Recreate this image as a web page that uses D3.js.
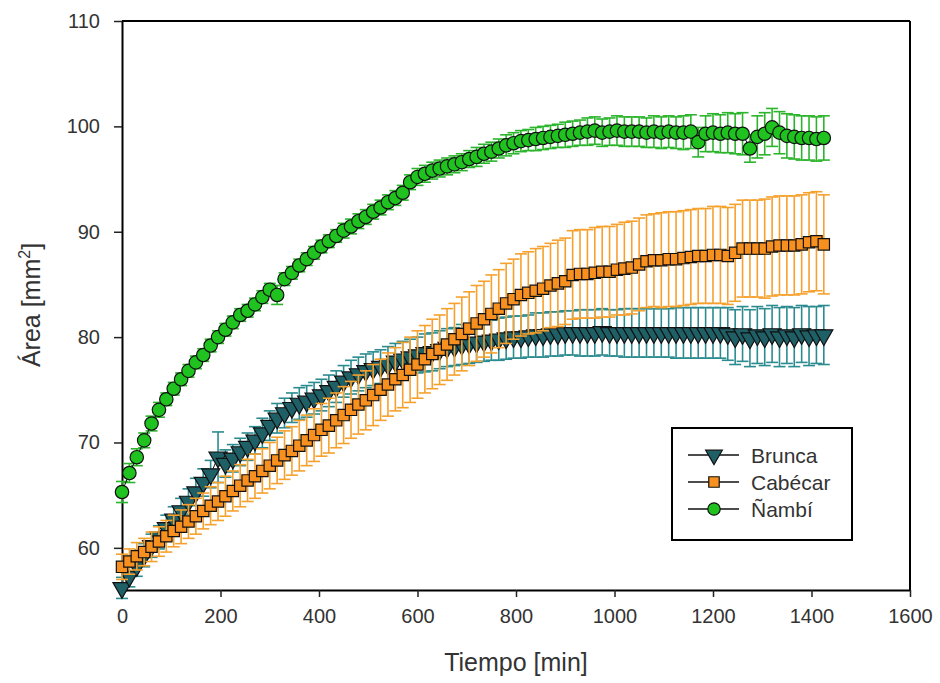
<!DOCTYPE html>
<html>
<head>
<meta charset="utf-8">
<script src="https://cdn.jsdelivr.net/npm/d3@7"></script>
<style>
  body { margin: 0; background: #fff; }
  svg { display: block; font-family: "Liberation Sans", Arial, sans-serif; }
</style>
</head>
<body>
<div id="canvas"></div>
<script>
// time points [min]
var tiempo = [0, 15, 30, 45, 60, 75, 90, 105, 120, 135, 150, 165, 180, 195, 210, 225, 240, 255, 270, 285,
  300, 315, 330, 345, 360, 375, 390, 405, 420, 435, 450, 465, 480, 495, 510, 525, 540, 555, 570, 585,
  600, 615, 630, 645, 660, 675, 690, 705, 720, 735, 750, 765, 780, 795, 810, 825, 840, 855, 870, 885,
  900, 915, 930, 945, 960, 975, 990, 1005, 1020, 1035, 1050, 1065, 1080, 1095, 1110, 1125, 1140, 1155, 1170, 1185,
  1200, 1215, 1230, 1245, 1260, 1275, 1290, 1305, 1320, 1335, 1350, 1365, 1380, 1395, 1410, 1425];

var brunca = [56.2, 57.3, 58.3, 59.3, 60.2, 61.0, 61.9, 62.7, 63.5, 64.4, 65.3, 66.2, 67.0, 68.6, 68.0, 68.5, 69.1, 69.6, 70.2, 70.9,
  71.6, 72.3, 72.8, 73.3, 73.7, 73.9, 74.2, 74.5, 74.9, 75.3, 75.8, 76.2, 76.5, 76.8, 77.0, 77.2, 77.4, 77.7, 77.9, 78.1,
  78.3, 78.5, 78.6, 78.8, 79.0, 79.1, 79.3, 79.4, 79.5, 79.6, 79.7, 79.8, 79.9, 80.0, 80.0, 80.1, 80.2, 80.2, 80.3, 80.3,
  80.4, 80.4, 80.4, 80.4, 80.4, 80.5, 80.4, 80.4, 80.4, 80.4, 80.4, 80.4, 80.4, 80.4, 80.4, 80.4, 80.4, 80.4, 80.4, 80.4,
  80.4, 80.4, 80.3, 80.0, 80.3, 79.9, 80.2, 80.0, 80.3, 80.0, 80.2, 80.0, 80.3, 80.1, 80.2, 80.2];
var bruncaErr = [1.0, 1.0, 1.0, 1.1, 1.1, 1.1, 1.2, 1.2, 1.2, 1.2, 1.3, 1.3, 1.3, 2.4, 1.3, 1.3, 1.3, 1.3, 1.3, 1.4,
  1.4, 1.4, 1.4, 1.4, 1.5, 1.5, 1.5, 1.5, 1.5, 1.5, 1.5, 1.6, 1.6, 1.6, 1.6, 1.6, 1.7, 1.7, 1.7, 1.7,
  1.7, 1.8, 1.8, 1.8, 1.8, 1.8, 1.9, 1.9, 1.9, 1.9, 1.9, 2.0, 2.0, 2.0, 2.0, 2.0, 2.1, 2.1, 2.1, 2.1,
  2.1, 2.1, 2.2, 2.2, 2.2, 2.2, 2.2, 2.2, 2.3, 2.3, 2.3, 2.3, 2.3, 2.3, 2.3, 2.4, 2.4, 2.4, 2.4, 2.4,
  2.4, 2.4, 2.5, 2.6, 2.6, 2.7, 2.7, 2.7, 2.7, 2.8, 2.7, 2.8, 2.7, 2.8, 2.7, 2.8];

var cabecar = [58.2, 58.7, 59.2, 59.6, 60.1, 60.6, 61.1, 61.6, 62.0, 62.5, 63.0, 63.5, 64.0, 64.4, 64.9, 65.4, 65.9, 66.4, 66.8, 67.3,
  67.8, 68.3, 68.8, 69.2, 69.7, 70.2, 70.7, 71.2, 71.6, 72.1, 72.6, 73.1, 73.6, 74.0, 74.5, 75.0, 75.5, 76.0, 76.4, 76.9,
  77.4, 77.9, 78.4, 78.8, 79.3, 79.8, 80.3, 80.8, 81.3, 81.7, 82.2, 82.7, 83.2, 83.6, 84.0, 84.2, 84.4, 84.6, 84.9, 85.1,
  85.3, 85.9, 86.0, 86.0, 86.1, 86.2, 86.2, 86.4, 86.5, 86.6, 86.9, 87.2, 87.3, 87.3, 87.4, 87.4, 87.5, 87.6, 87.7, 87.7,
  87.8, 87.8, 87.7, 88.0, 88.4, 88.4, 88.4, 88.4, 88.6, 88.7, 88.7, 88.7, 88.8, 89.0, 89.1, 88.8];
var cabecarErr = [1.2, 1.2, 1.3, 1.3, 1.4, 1.4, 1.5, 1.5, 1.6, 1.6, 1.7, 1.7, 1.8, 1.8, 1.9, 1.9, 2.0, 2.0, 2.1, 2.1,
  2.2, 2.2, 2.3, 2.3, 2.4, 2.4, 2.5, 2.5, 2.6, 2.6, 2.7, 2.7, 2.8, 2.8, 2.9, 2.9, 3.0, 3.0, 3.1, 3.1,
  3.2, 3.2, 3.3, 3.3, 3.4, 3.4, 3.5, 3.5, 3.6, 3.6, 3.7, 3.7, 3.8, 3.8, 3.9, 3.9, 4.0, 4.0, 4.0, 4.1,
  4.1, 4.2, 4.2, 4.2, 4.3, 4.3, 4.3, 4.3, 4.4, 4.4, 4.4, 4.4, 4.4, 4.5, 4.5, 4.5, 4.5, 4.5, 4.5, 4.5,
  4.6, 4.6, 4.6, 4.6, 4.6, 4.6, 4.6, 4.7, 4.7, 4.7, 4.7, 4.7, 4.7, 4.7, 4.7, 4.7];

var nambi = [65.3, 67.1, 68.6, 70.2, 71.8, 73.1, 74.1, 75.1, 76.0, 76.8, 77.6, 78.3, 79.2, 80.0, 80.7, 81.4, 82.1, 82.5, 83.1, 83.8,
  84.5, 84.0, 85.5, 86.1, 86.8, 87.4, 88.0, 88.6, 89.1, 89.6, 90.1, 90.5, 91.0, 91.4, 91.9, 92.3, 92.8, 93.2, 93.7, 94.7,
  95.2, 95.5, 95.8, 96.0, 96.2, 96.4, 96.6, 96.9, 97.1, 97.4, 97.6, 97.9, 98.2, 98.4, 98.6, 98.7, 98.8, 98.9, 99.0, 99.1,
  99.2, 99.3, 99.4, 99.5, 99.6, 99.4, 99.5, 99.6, 99.5, 99.5, 99.5, 99.4, 99.5, 99.4, 99.5, 99.4, 99.4, 99.5, 98.5, 99.3,
  99.4, 99.3, 99.4, 99.3, 99.3, 97.9, 99.0, 99.3, 99.9, 99.4, 99.1, 99.0, 98.9, 98.9, 98.8, 98.9];
var nambiErr = [1.0, 0.9, 0.8, 0.7, 0.7, 0.7, 0.6, 0.6, 0.6, 0.6, 0.6, 0.6, 0.6, 0.6, 0.6, 0.6, 0.6, 0.6, 0.6, 0.6,
  0.6, 0.9, 0.6, 0.6, 0.6, 0.6, 0.6, 0.6, 0.6, 0.6, 0.7, 0.7, 0.7, 0.7, 0.7, 0.7, 0.7, 0.7, 0.7, 0.7,
  0.8, 0.8, 0.8, 0.8, 0.8, 0.8, 0.8, 0.8, 0.9, 0.9, 0.9, 0.9, 1.0, 1.0, 1.0, 1.0, 1.1, 1.1, 1.1, 1.1,
  1.2, 1.2, 1.2, 1.3, 1.3, 1.3, 1.3, 1.4, 1.4, 1.4, 1.4, 1.4, 1.5, 1.5, 1.5, 1.5, 1.6, 1.6, 1.4, 1.7,
  1.8, 1.8, 1.9, 1.9, 2.0, 1.3, 2.0, 2.0, 1.8, 2.0, 2.1, 2.1, 2.1, 2.1, 2.1, 2.1];

var xTicks = [0, 200, 400, 600, 800, 1000, 1200, 1400, 1600];
var yTicks = [60, 70, 80, 90, 100, 110];

var canvasWidth = 940, canvasHeight = 683;
var plotLeft = 122, plotRight = 910, plotTop = 21, plotBottom = 590;

var series = [
  { name: "Brunca",   values: brunca,  errors: bruncaErr,  bar: "#2b8b8f", fill: "#1f5f66", symbol: "triangle" },
  { name: "Cabécar",  values: cabecar, errors: cabecarErr, bar: "#f6a12e", fill: "#f7901e", symbol: "square" },
  { name: "Ñambí",    values: nambi,   errors: nambiErr,   bar: "#2cb52c", fill: "#1fc21f", symbol: "circle" }
];

var xScale = d3.scaleLinear().domain([0, 1600]).range([plotLeft, plotRight]);
var yScale = d3.scaleLinear().domain([56, 110]).range([plotBottom, plotTop]);

var svg = d3.select("#canvas").append("svg")
  .attr("width", canvasWidth)
  .attr("height", canvasHeight)
  .attr("viewBox", "0 0 " + canvasWidth + " " + canvasHeight);

// frame (top + right)
svg.append("line")
  .attr("x1", plotLeft).attr("x2", plotRight)
  .attr("y1", plotTop).attr("y2", plotTop)
  .attr("stroke", "#000").attr("stroke-width", 2);
svg.append("line")
  .attr("x1", plotRight).attr("x2", plotRight)
  .attr("y1", plotTop).attr("y2", plotBottom)
  .attr("stroke", "#000").attr("stroke-width", 2);

// axes
var xAxis = svg.append("g")
  .attr("transform", "translate(0," + plotBottom + ")")
  .call(d3.axisBottom(xScale).tickValues(xTicks).tickFormat(d3.format("d"))
    .tickSize(7).tickSizeOuter(0).tickPadding(12));
var yAxis = svg.append("g")
  .attr("transform", "translate(" + plotLeft + ",0)")
  .call(d3.axisLeft(yScale).tickValues(yTicks).tickFormat(d3.format("d"))
    .tickSize(8).tickSizeOuter(0).tickPadding(14));

[xAxis, yAxis].forEach(function(ax) {
  ax.select(".domain").attr("stroke", "#000").attr("stroke-width", 2);
  ax.selectAll(".tick line").attr("stroke", "#222").attr("stroke-width", 1.5);
  ax.selectAll(".tick text")
    .attr("fill", "#333")
    .style("font-size", "20px")
    .style("font-family", "'Liberation Sans', Arial, sans-serif");
});

function symbolPath(kind, size) {
  if (kind == "triangle")
    return d3.symbol().type(d3.symbolTriangle).size(size * 1.05)();
  if (kind == "square")
    return d3.symbol().type(d3.symbolSquare).size(size * 0.95)();
  return d3.symbol().type(d3.symbolCircle).size(size * 1.05)();
}

function transformFor(kind, cx, cy) {
  if (kind == "triangle")
    return "translate(" + cx + "," + cy + ") rotate(180)";
  return "translate(" + cx + "," + cy + ")";
}

var capHalf = 6;
var markerSize = 135;

series.forEach(function(s) {
  var pts = tiempo.map(function(t, i) { return { t: t, v: s.values[i], e: s.errors[i] }; });
  var g = svg.append("g").attr("class", "series");

  // error bars
  var eb = g.append("g").attr("stroke", s.bar).attr("stroke-width", 1.6).attr("fill", "none");
  pts.forEach(function(p) {
    var cx = xScale(p.t), y1 = yScale(p.v + p.e), y2 = yScale(p.v - p.e);
    eb.append("line").attr("x1", cx).attr("x2", cx).attr("y1", y1).attr("y2", y2);
    eb.append("line").attr("x1", cx - capHalf).attr("x2", cx + capHalf).attr("y1", y1).attr("y2", y1);
    eb.append("line").attr("x1", cx - capHalf).attr("x2", cx + capHalf).attr("y1", y2).attr("y2", y2);
  });

  // connecting line
  g.append("path")
    .datum(pts)
    .attr("fill", "none")
    .attr("stroke", "#111")
    .attr("stroke-width", 1)
    .attr("d", d3.line().x(function(d) { return xScale(d.t); }).y(function(d) { return yScale(d.v); }));

  // markers
  g.selectAll(".marker")
    .data(pts)
    .enter().append("path")
    .attr("class", "marker")
    .attr("d", symbolPath(s.symbol, markerSize))
    .attr("transform", function(d) { return transformFor(s.symbol, xScale(d.t), yScale(d.v)); })
    .attr("fill", s.fill)
    .attr("stroke", "#111")
    .attr("stroke-width", 1.2);
});

// legend
var legend = svg.append("g");
legend.append("rect")
  .attr("x", 672).attr("y", 428)
  .attr("width", 180).attr("height", 112)
  .attr("fill", "#fff")
  .attr("stroke", "#000")
  .attr("stroke-width", 2);

series.forEach(function(s, i) {
  var ly = 455 + i * 27;
  legend.append("line")
    .attr("x1", 688).attr("x2", 739)
    .attr("y1", ly).attr("y2", ly)
    .attr("stroke", "#111").attr("stroke-width", 1.5);
  legend.append("path")
    .attr("d", symbolPath(s.symbol, 115))
    .attr("transform", transformFor(s.symbol, 714, ly))
    .attr("fill", s.fill)
    .attr("stroke", "#111")
    .attr("stroke-width", 1.2);
  legend.append("text")
    .attr("x", 751)
    .attr("y", ly + 8)
    .attr("fill", "#333")
    .style("font-size", "21px")
    .text(s.name);
});

// axis titles
svg.append("text")
  .attr("x", 516)
  .attr("y", 671)
  .attr("text-anchor", "middle")
  .attr("fill", "#333")
  .style("font-size", "25px")
  .text("Tiempo [min]");

var yTitle = svg.append("text")
  .attr("transform", "translate(40,305) rotate(-90)")
  .attr("text-anchor", "middle")
  .attr("fill", "#333")
  .style("font-size", "25px");
yTitle.append("tspan").text("Área [mm");
yTitle.append("tspan").attr("dy", -10).style("font-size", "16px").text("2");
yTitle.append("tspan").attr("dy", 10).text("]");
</script>
</body>
</html>
